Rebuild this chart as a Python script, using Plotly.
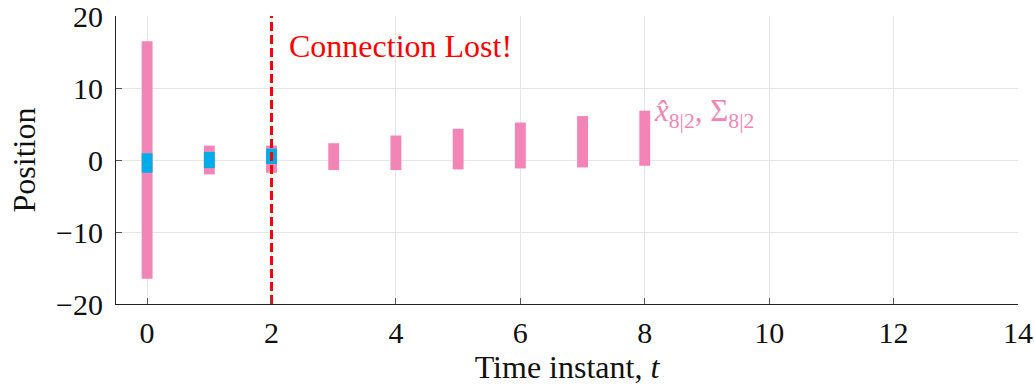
import plotly.graph_objects as go

# Data
t = [0, 1, 2, 3, 4, 5, 6, 7, 8]
pred_low = [-16.5, -2.0, -1.77, -1.40, -1.40, -1.31, -1.17, -1.03, -0.80]
pred_high = [16.5, 2.0, 2.0, 2.33, 3.40, 4.34, 5.20, 6.10, 6.85]

t_est = [0, 1, 2]
est_low = [-1.77, -1.12, -0.56]
est_high = [0.93, 1.12, 1.58]

conn_lost_t = 2
x_ticks = [0, 2, 4, 6, 8, 10, 12, 14]
y_ticks = [-20, -10, 0, 10, 20]

PINK = "#f285b5"
BLUE = "#00abe9"
FONT = "Liberation Serif"

fig = go.Figure()
fig.add_trace(go.Bar(
    x=t, y=[h - l for h, l in zip(pred_high, pred_low)], base=pred_low,
    width=0.175, marker=dict(color=PINK, line=dict(width=0)), showlegend=False))
fig.add_trace(go.Bar(
    x=t_est, y=[h - l for h, l in zip(est_high, est_low)], base=est_low,
    width=0.175, marker=dict(color=BLUE, line=dict(width=0)), showlegend=False))
fig.add_trace(go.Scatter(
    x=[conn_lost_t, conn_lost_t], y=[-20, 20], mode="lines",
    line=dict(color="#ff0000", width=3, dash="9px,4px"), showlegend=False))

fig.add_annotation(x=2.25, y=15.9, text="Connection Lost!", showarrow=False,
                   xanchor="left", yanchor="middle",
                   font=dict(family=FONT, size=32, color="#ff0000"))
fig.add_annotation(x=8.12, y=6.5, text="<i>x̂</i><sub>8|2</sub>, Σ<sub>8|2</sub>",
                   showarrow=False, xanchor="left", yanchor="middle",
                   font=dict(family=FONT, size=31, color=PINK))

axis_common = dict(
    showline=True, linecolor="#222222", linewidth=1.2,
    ticks="inside", ticklen=6, tickcolor="#555555", tickwidth=1,
    showgrid=True, gridcolor="#e6e6e6", gridwidth=1,
    zeroline=False, mirror=False, automargin=False,
    ticklabeloverflow="allow",
    tickfont=dict(family=FONT, size=30, color="#111111"),
)
fig.update_xaxes(range=[-0.5, 14], tickvals=x_ticks, ticklabelstandoff=2,
                 title=dict(text="Time instant, <i>t</i>", standoff=4,
                            font=dict(family=FONT, size=32, color="#111111")),
                 **axis_common)
fig.update_yaxes(range=[-20, 20], tickvals=y_ticks, ticklabelstandoff=6,
                 title=dict(text="Position", standoff=10,
                            font=dict(family=FONT, size=32, color="#111111")),
                 **axis_common)

fig.update_layout(
    width=1034, height=385, barmode="overlay",
    margin=dict(l=116, r=16, t=16, b=81),
    plot_bgcolor="white", paper_bgcolor="white",
)
fig.write_html("out.html", config={"displayModeBar": False},
               post_script="document.body.style.margin='0';document.body.style.overflow='hidden';")
